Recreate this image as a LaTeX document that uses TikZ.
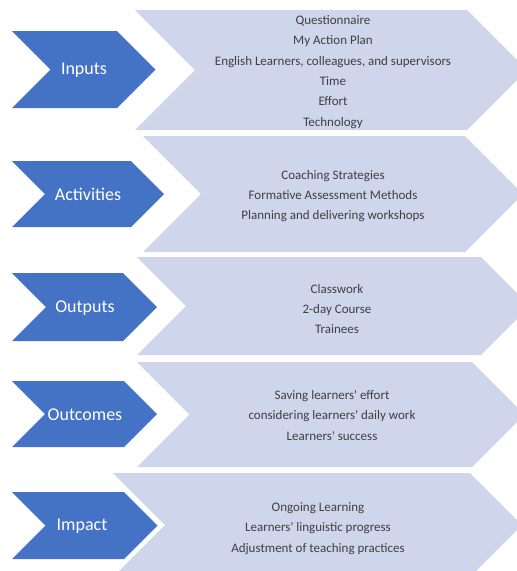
\documentclass[tikz,border=0pt]{standalone}
\usepackage{fontspec}
\setmainfont{Carlito}
\definecolor{stageblue}{HTML}{4472C4}
\definecolor{detailfill}{HTML}{CFD5EA}
\definecolor{detailtext}{HTML}{404040}

% chevron: left x, top y, bottom y, right x of the flat top edge, fill colour
\newcommand\drawchev[5]{%
  \pgfmathsetmacro\chevd{(#3-#2)/2}%
  \pgfmathsetmacro\chevm{(#3+#2)/2}%
  \fill[#5] (#1,#2) -- (#4,#2) -- (#4+\chevd,\chevm) -- (#4,#3) -- (#1,#3)
            -- (#1+\chevd,\chevm) -- cycle;%
}
\newcommand\apos{\textquotesingle}

\tikzset{
  stagelabel/.style={text=white, font=\fontsize{18}{20}\selectfont, inner sep=0pt},
  details/.style={text=detailtext, align=center, inner sep=0pt,
                  font=\fontsize{13}{20.4}\selectfont},
}

\begin{document}
\begin{tikzpicture}[x=1pt, y=-1pt]
  \useasboundingbox (0,0) rectangle (517,571);
  \clip (0,0) rectangle (517,571);

  % detail chevrons
  \drawchev{135}{10}{130}{467}{detailfill}
  \drawchev{143}{136}{252}{465}{detailfill}
  \drawchev{137}{257}{355}{481}{detailfill}
  \drawchev{137}{362}{467}{472}{detailfill}
  \drawchev{113}{473}{577}{470}{detailfill}

  % stage chevrons
  \drawchev{12}{31}{108}{117}{stageblue}
  \drawchev{12}{161}{227}{131}{stageblue}
  \drawchev{12}{273}{341}{123}{stageblue}
  \drawchev{12}{381}{447}{124}{stageblue}
  \drawchev{12}{492}{559}{124}{stageblue}

  % stage names
  \node[stagelabel] (inputs)     at (84,70.5) {Inputs};
  \node[stagelabel] (activities) at (88,194)  {Activities};
  \node[stagelabel] (outputs)    at (85,308)  {Outputs};
  \node[stagelabel] (outcomes)   at (85,415)  {Outcomes};
  \node[stagelabel] (impact)     at (82,526)  {Impact};

  % stage details
  \node[details] (inputsdet) at (333,72) {Questionnaire\\My Action Plan\\English Learners, colleagues, and supervisors\\Time\\Effort\\Technology};
  \node[details] (activitiesdet) at (333,196) {Coaching Strategies\\Formative Assessment Methods\\Planning and delivering workshops};
  \node[details] (outputsdet) at (337,309) {Classwork\\2-day Course\\Trainees};
  \node[details] (outcomesdet) at (332,415.5) {Saving learners\apos{} effort\\considering learners\apos{} daily work\\Learners\apos{} success};
  \node[details] (impactdet) at (318,528.5) {Ongoing Learning\\Learners\apos{} linguistic progress\\Adjustment of teaching practices};
\end{tikzpicture}
\end{document}
